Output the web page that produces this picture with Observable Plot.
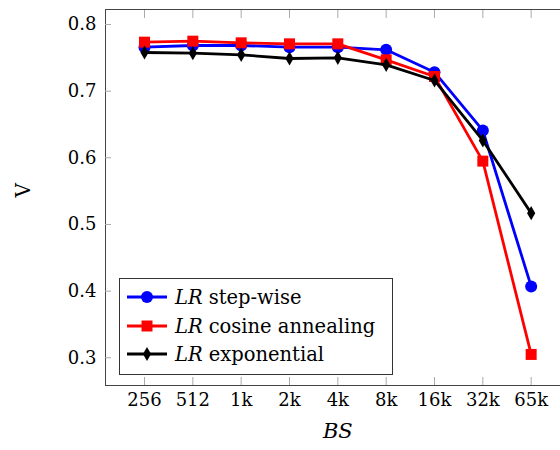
<!DOCTYPE html>
<html><head><meta charset="utf-8">
<script src="https://cdn.jsdelivr.net/npm/d3@7"></script>
<script src="https://cdn.jsdelivr.net/npm/@observablehq/plot@0.6"></script>
<style>
body{margin:0;background:#fff;overflow:hidden}
#wrap{position:relative;width:560px;height:450px}
#legend{position:absolute;left:119px;top:278px;width:272px;height:95px;border:1px solid #333;background:#fff;font-family:"DejaVu Serif";font-size:19.5px;color:#000}
.row{position:absolute;left:0;height:28px;display:flex;align-items:center;white-space:nowrap}
.row svg{margin-left:7px;margin-right:8px}
.row i{margin-right:6px}
</style></head>
<body><div id="wrap"></div>
<script>
const categories = ["256","512","1k","2k","4k","8k","16k","32k","65k"];
const stepwise    = [0.766, 0.7685, 0.7685, 0.766, 0.766, 0.762, 0.7285, 0.641, 0.407];
const cosine      = [0.7735, 0.775, 0.7725, 0.771, 0.771, 0.747, 0.722, 0.595, 0.305];
const exponential = [0.758, 0.757, 0.7545, 0.749, 0.75, 0.7395, 0.716, 0.626, 0.517];
const seriesNames = ["step-wise", "cosine annealing", "exponential"];
const yTicks = [0.3, 0.4, 0.5, 0.6, 0.7, 0.8];

const FONT = '"DejaVu Serif"';
const idx = categories.map((_, i) => i);
const xDomain = [-0.807, 8.607];
const yDomain = [0.2584, 0.8225];

const series = [
  {values: stepwise, color: "#0000ff", symbol: "circle", r: 6},
  {values: cosine, color: "#ff0000", symbol: "square", r: 6.2},
  {values: exponential, color: "#000000", symbol: "diamond", r: 4.3}
];

const marks = [
  Plot.ruleY([yDomain[0], yDomain[1]], {stroke: "#444", strokeWidth: 1}),
  Plot.ruleX([xDomain[0]], {stroke: "#444", strokeWidth: 1}),
  Plot.axisX(idx, {anchor: "bottom", tickSize: -8, tickPadding: 16, tickFormat: i => categories[i], stroke: "#aaa", fill: "#000", fontSize: 18, fontFamily: FONT, label: null}),
  Plot.axisX(idx, {anchor: "top", tickSize: -8, tickFormat: () => "", stroke: "#aaa", label: null}),
  Plot.axisY(yTicks, {anchor: "left", tickSize: -6, tickPadding: 15, tickFormat: d => d.toFixed(1), stroke: "#aaa", fill: "#000", fontSize: 18, fontFamily: FONT, label: null}),
  Plot.text([4], {x: d => d, frameAnchor: "bottom", dy: 52, text: () => "BS", fontStyle: "italic", fontSize: 21, fontFamily: FONT, fill: "#000"}),
  Plot.text(["V"], {frameAnchor: "left", dx: -82, rotate: -90, text: d => d, fontSize: 20, fontFamily: FONT, fill: "#000"})
];
for (const s of series) {
  const data = idx.map(i => ({x: i, y: s.values[i]}));
  marks.push(Plot.line(data, {x: "x", y: "y", stroke: s.color, strokeWidth: 2.8}));
  marks.push(Plot.dot(data, {x: "x", y: "y", fill: s.color, stroke: "none", symbol: s.symbol, r: s.r}));
}

const chart = Plot.plot({
  width: 560, height: 450,
  marginLeft: 105, marginRight: 0, marginTop: 9, marginBottom: 65,
  x: {type: "linear", domain: xDomain, label: null},
  y: {type: "linear", domain: yDomain, label: null},
  style: {background: "#fff", color: "#000", fontFamily: FONT},
  marks
});
const wrap = document.getElementById("wrap");
wrap.appendChild(chart);

// legend
const legend = document.createElement("div");
legend.id = "legend";
const centers = [18, 47, 75];
series.forEach((s, k) => {
  const row = document.createElement("div");
  row.className = "row";
  row.style.top = (centers[k] - 14) + "px";
  const sv = d3.create("svg").attr("width", 40).attr("height", 20);
  sv.append("line").attr("x1", 0).attr("x2", 40).attr("y1", 10).attr("y2", 10).attr("stroke", s.color).attr("stroke-width", 2.8);
  sv.append("path").attr("transform", "translate(20,10)")
    .attr("d", d3.symbol(s.symbol === "circle" ? d3.symbolCircle : s.symbol === "square" ? d3.symbolSquare : d3.symbolDiamond, Math.PI * s.r * s.r)())
    .attr("fill", s.color);
  row.appendChild(sv.node());
  const lab = document.createElement("span");
  lab.innerHTML = "<i>LR</i>" + seriesNames[k];
  row.appendChild(lab);
  legend.appendChild(row);
});
wrap.appendChild(legend);
</script>
</body></html>
